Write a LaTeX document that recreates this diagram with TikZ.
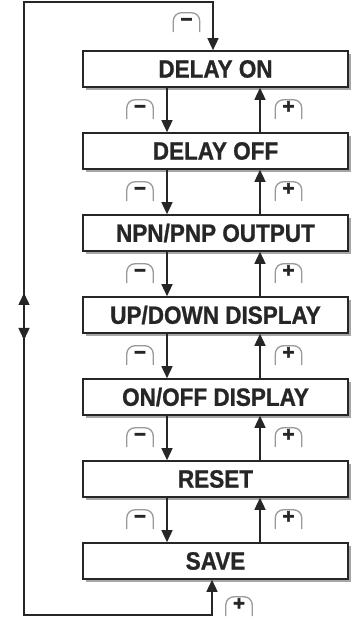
\documentclass[tikz,border=0pt]{standalone}
\usepackage{fontspec}
\setmainfont{Liberation Sans}
\newfontfamily\menufont[FakeStretch=0.9, FakeBold=1]{Liberation Sans}
\newfontfamily\keyfont[FakeBold=3]{Liberation Sans}
\usetikzlibrary{arrows.meta, positioning, shadows}
\tikzstyle{menu} = [rectangle,
minimum width=265pt, minimum height=36pt,
text centered, inner sep=0pt,
draw=black!85, line width=1.6pt, fill=white,
font=\menufont\bfseries\fontsize{25}{26}\selectfont, text=black!85,
drop shadow={shadow xshift=3pt, shadow yshift=-3pt, opacity=0.35, fill=black}]
\tikzstyle{keycap} = [inner sep=0pt,
minimum width=26pt, minimum height=13pt,
text height=13pt, text depth=0pt,
font=\keyfont\bfseries\fontsize{20}{20}\selectfont, text=black!85,
append after command={\pgfextra{\draw [black!40, line width=1.3pt, rounded corners=8pt]
([yshift=-6pt]\tikzlastnode.south west) -- (\tikzlastnode.north west)
-- (\tikzlastnode.north east) -- ([yshift=-6pt]\tikzlastnode.south east);}}]
\tikzstyle{arrow} = [line width=1.5pt, draw=black!85, -{Triangle[length=12pt, width=11pt]}]
\tikzstyle{twoway} = [line width=1.5pt, draw=black!85,
{Triangle[length=12pt, width=11pt]}-{Triangle[length=12pt, width=11pt]}]

\begin{document}
\begin{tikzpicture}[x=1pt, y=1pt, node distance=82pt]
                \useasboundingbox (0,0) rectangle (360,617);

                \node (delayOn) [menu] at (215.5,548) {DELAY ON};
                \node (delayOff) [menu, below of=delayOn] {DELAY OFF};
                \node (output) [menu, below of=delayOff] {NPN/PNP OUTPUT};
                \node (updown) [menu, below of=output] {UP/DOWN DISPLAY};
                \node (onoff) [menu, below of=updown] {ON/OFF DISPLAY};
                \node (reset) [menu, below of=onoff] {RESET};
                \node (save) [menu, below of=reset] {SAVE};

                \node (minusTop) [keycap, above=24pt of delayOn.north, xshift=-29pt] {−};
                \node (minusOn) [keycap, below=12pt of delayOn.south, xshift=-75.5pt] {−};
                \node (plusOn) [keycap, below=12pt of delayOn.south, xshift=73pt] {+};
                \node (minusOff) [keycap, below=12pt of delayOff.south, xshift=-75.5pt] {−};
                \node (plusOff) [keycap, below=12pt of delayOff.south, xshift=73pt] {+};
                \node (minusOutput) [keycap, below=12pt of output.south, xshift=-75.5pt] {−};
                \node (plusOutput) [keycap, below=12pt of output.south, xshift=73pt] {+};
                \node (minusUpdown) [keycap, below=12pt of updown.south, xshift=-75.5pt] {−};
                \node (plusUpdown) [keycap, below=12pt of updown.south, xshift=73pt] {+};
                \node (minusOnoff) [keycap, below=12pt of onoff.south, xshift=-75.5pt] {−};
                \node (plusOnoff) [keycap, below=12pt of onoff.south, xshift=73pt] {+};
                \node (minusReset) [keycap, below=12pt of reset.south, xshift=-75.5pt] {−};
                \node (plusReset) [keycap, below=12pt of reset.south, xshift=73pt] {+};
                \node (plusSave) [keycap, below=17pt of save.south, xshift=23.5pt] {+};

                \coordinate (loopTop) at (24,615);
                \coordinate (loopBottom) at (24,2);
                \coordinate (loopUp) at (24,324);
                \coordinate (loopDown) at (24,277);

                \draw [arrow] ([xshift=-48.5pt]delayOn.south) -- ([xshift=-48.5pt]delayOff.north);
                \draw [arrow] ([xshift=44.5pt]delayOff.north) -- ([xshift=44.5pt]delayOn.south);

                \draw [arrow] ([xshift=-48.5pt]delayOff.south) -- ([xshift=-48.5pt]output.north);
                \draw [arrow] ([xshift=44.5pt]output.north) -- ([xshift=44.5pt]delayOff.south);

                \draw [arrow] ([xshift=-48.5pt]output.south) -- ([xshift=-48.5pt]updown.north);
                \draw [arrow] ([xshift=44.5pt]updown.north) -- ([xshift=44.5pt]output.south);

                \draw [arrow] ([xshift=-48.5pt]updown.south) -- ([xshift=-48.5pt]onoff.north);
                \draw [arrow] ([xshift=44.5pt]onoff.north) -- ([xshift=44.5pt]updown.south);

                \draw [arrow] ([xshift=-48.5pt]onoff.south) -- ([xshift=-48.5pt]reset.north);
                \draw [arrow] ([xshift=44.5pt]reset.north) -- ([xshift=44.5pt]onoff.south);

                \draw [arrow] ([xshift=-48.5pt]reset.south) -- ([xshift=-48.5pt]save.north);
                \draw [arrow] ([xshift=44.5pt]save.north) -- ([xshift=44.5pt]reset.south);

                \draw [arrow] (loopBottom) -- (loopTop) -| ([xshift=-2.5pt]delayOn.north);
                \draw [arrow] (loopTop) -- (loopBottom) -| ([xshift=-3.5pt]save.south);
                \draw [twoway] (loopDown) -- (loopUp);
            \end{tikzpicture}
\end{document}
